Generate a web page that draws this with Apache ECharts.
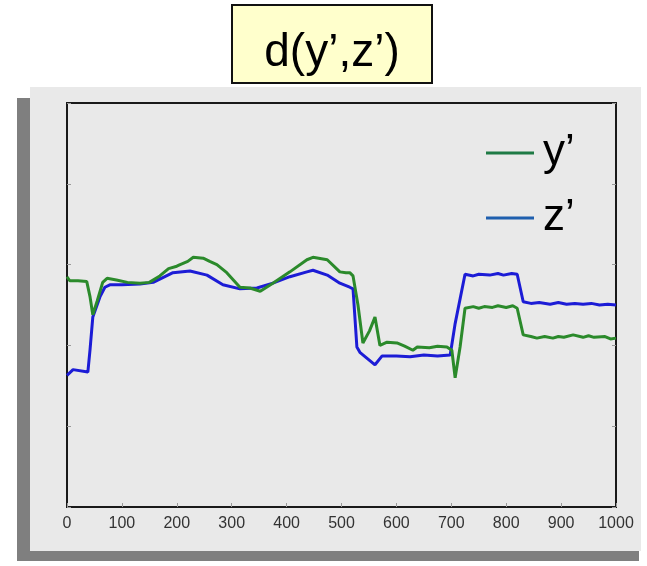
<!DOCTYPE html>
<html>
<head>
<meta charset="utf-8">
<script src="https://cdn.jsdelivr.net/npm/echarts@6/dist/echarts.min.js"></script>
<style>
html,body{margin:0;padding:0;background:#ffffff;}
#chart{width:647px;height:566px;}
</style>
</head>
<body>
<div id="chart"></div>
<script>
// ---- data ----
var titleText = "d(y\u2019,z\u2019)";
var seriesNames = ["y\u2019", "z\u2019"];
var xTicks = [0, 100, 200, 300, 400, 500, 600, 700, 800, 900, 1000];

var yPrimeX = [0, 5, 20, 36, 42, 47, 55, 65, 73, 90, 110, 133, 150, 169, 185, 200, 206, 220, 230, 248, 260, 273, 291, 315, 333, 352, 375, 406, 437, 448, 474, 497, 508, 515, 521, 530, 539, 551, 561, 570, 583, 601, 615, 630, 638, 660, 675, 692, 701, 707, 716, 725, 740, 750, 760, 775, 785, 800, 812, 820, 831, 845, 856, 870, 885, 895, 905, 922, 940, 950, 960, 980, 990, 1000];
var yPrimeV = [2.85, 2.80, 2.80, 2.79, 2.60, 2.38, 2.55, 2.78, 2.83, 2.81, 2.78, 2.77, 2.78, 2.86, 2.95, 2.98, 3.00, 3.04, 3.09, 3.08, 3.04, 3.00, 2.90, 2.72, 2.71, 2.67, 2.77, 2.91, 3.06, 3.09, 3.06, 2.91, 2.90, 2.90, 2.86, 2.50, 2.03, 2.18, 2.35, 2.00, 2.04, 2.03, 1.99, 1.94, 1.98, 1.97, 1.99, 1.98, 1.94, 1.60, 1.98, 2.46, 2.48, 2.46, 2.48, 2.47, 2.49, 2.47, 2.49, 2.46, 2.13, 2.11, 2.09, 2.11, 2.09, 2.11, 2.10, 2.13, 2.10, 2.12, 2.10, 2.11, 2.08, 2.09];

var zPrimeX = [0, 2, 11, 38, 42, 47, 60, 69, 78, 100, 133, 157, 193, 224, 255, 284, 315, 346, 375, 406, 437, 448, 474, 497, 515, 521, 528, 534, 561, 574, 600, 625, 650, 675, 698, 707, 725, 740, 750, 770, 785, 795, 810, 820, 831, 845, 860, 880, 895, 910, 925, 940, 955, 970, 985, 1000];
var zPrimeV = [1.63, 1.63, 1.70, 1.67, 1.95, 2.35, 2.60, 2.72, 2.75, 2.75, 2.76, 2.78, 2.90, 2.92, 2.87, 2.75, 2.70, 2.71, 2.77, 2.85, 2.91, 2.93, 2.87, 2.77, 2.72, 2.70, 1.98, 1.91, 1.76, 1.87, 1.87, 1.86, 1.88, 1.87, 1.88, 2.27, 2.88, 2.86, 2.88, 2.87, 2.89, 2.87, 2.89, 2.88, 2.54, 2.52, 2.53, 2.51, 2.53, 2.51, 2.52, 2.51, 2.52, 2.50, 2.51, 2.50];

function pairs(xs, vs) { var out = []; for (var i = 0; i < xs.length; i++) out.push([xs[i], vs[i]]); return out; }

var chart = echarts.init(document.getElementById('chart'), null, {renderer: 'canvas'});
var font = 'Liberation Sans, Arial, Helvetica, sans-serif';

chart.setOption({
  animation: false,
  backgroundColor: '#ffffff',
  textStyle: {fontFamily: font},
  graphic: [
    {type: 'rect', z: -10, silent: true, shape: {x: 17, y: 98, width: 622, height: 463}, style: {fill: '#7f7f7f'}},
    {type: 'rect', z: -9, silent: true, shape: {x: 30, y: 87, width: 611, height: 464}, style: {fill: '#e9e9e9'}},
    {type: 'rect', z: 10, silent: true, shape: {x: 232, y: 5, width: 200, height: 78}, style: {fill: '#ffffcc', stroke: '#111111', lineWidth: 2}},
    {type: 'text', z: 11, silent: true, x: 332, y: 76, style: {text: titleText, fill: '#000000', font: '46px ' + font, textAlign: 'center', textVerticalAlign: 'bottom'}}
  ],
  grid: {left: 67, top: 103, right: 31, bottom: 59, show: true, borderColor: '#1a1a1a', borderWidth: 2, backgroundColor: 'transparent'},
  legend: {
    orient: 'vertical', left: 481, top: 126, itemWidth: 48, itemHeight: 3, itemGap: 21, icon: 'rect',
    textStyle: {fontSize: 44, color: '#000000', fontFamily: font, lineHeight: 36, padding: [0, 0, 0, 4]},
    data: [
      {name: seriesNames[0], itemStyle: {color: '#1e7a45'}},
      {name: seriesNames[1], itemStyle: {color: '#1f5fae'}}
    ]
  },
  xAxis: {
    type: 'value', min: 0, max: 1000, interval: 100,
    axisLine: {show: true, lineStyle: {color: '#1a1a1a', width: 2}},
    axisTick: {show: true, inside: true, length: 4, lineStyle: {color: '#999999'}},
    axisLabel: {fontSize: 16, color: '#333333', margin: 9, fontFamily: font, formatter: function (v) { return xTicks.indexOf(v) >= 0 ? String(v) : ''; }},
    splitLine: {show: false}
  },
  yAxis: [{
    type: 'value', min: 0, max: 5, interval: 1,
    axisLine: {show: true, lineStyle: {color: '#1a1a1a', width: 2}},
    axisTick: {show: true, inside: true, length: 4, lineStyle: {color: '#999999'}},
    axisLabel: {show: false},
    splitLine: {show: false}
  }, {
    type: 'value', min: 0, max: 5, interval: 1, position: 'right',
    axisLine: {show: false},
    axisTick: {show: true, inside: true, length: 4, lineStyle: {color: '#999999'}},
    axisLabel: {show: false},
    splitLine: {show: false}
  }],
  series: [
    {name: seriesNames[0], type: 'line', data: pairs(yPrimeX, yPrimeV), showSymbol: false, symbol: 'none', lineStyle: {color: '#2b8a2b', width: 3}, itemStyle: {color: '#2b8a2b'}, z: 3},
    {name: seriesNames[1], type: 'line', data: pairs(zPrimeX, zPrimeV), showSymbol: false, symbol: 'none', lineStyle: {color: '#1c1cd6', width: 3}, itemStyle: {color: '#1c1cd6'}, z: 2}
  ]
});
</script>
</body>
</html>
